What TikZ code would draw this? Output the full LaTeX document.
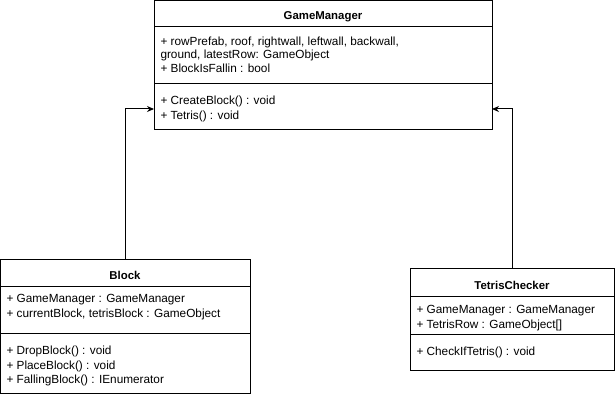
\documentclass[tikz,border=0pt]{standalone}
\usepackage{fontspec}
\setmainfont{Liberation Sans}
\usetikzlibrary{arrows.meta}
\begin{document}
\begin{tikzpicture}[x=1pt,y=-1pt,line width=1pt,
  classbox/.style={draw,inner sep=0pt,outer sep=0pt,anchor=north west},
  ctitle/.style={font=\bfseries\fontsize{11.4}{13}\selectfont,anchor=base,inner sep=0pt},
  member/.style={font=\fontsize{11.8}{13}\selectfont,anchor=base west,inner sep=0pt},
  inherit/.style={-{Stealth[length=7pt,width=6pt]}}]
\useasboundingbox (0,0) rectangle (615,403);
% GameManager
\node[classbox,minimum width=338pt,minimum height=129pt] (gm) at (154,1) {};
\draw (gm.west |- 0,27) -- (gm.east |- 0,27);
\draw (gm.west |- 0,84) -- (gm.east |- 0,84);
\node[ctitle] (gmt) at (323,19.5) {GameManager};
\node[member] (gma1) at (160,45.5) {+ rowPrefab, roof, rightwall, leftwall, backwall,};
\node[member] (gma2) at (160,59) {ground, latestRow: GameObject};
\node[member] (gma3) at (160,73) {+ BlockIsFallin : bool};
\node[member] (gmm1) at (160,105) {+ CreateBlock() : void};
\node[member] (gmm2) at (160,119.5) {+ Tetris() : void};
% Block
\node[classbox,minimum width=249.5pt,minimum height=134pt] (bl) at (0.5,259) {};
\draw (bl.west |- 0,286) -- (bl.east |- 0,286);
\draw (bl.west |- 0,333) -- (bl.east |- 0,333);
\node[ctitle] (blt) at (125,279) {Block};
\node[member] (bla1) at (6,302.5) {+ GameManager : GameManager};
\node[member] (bla2) at (6,317) {+ currentBlock, tetrisBlock : GameObject};
\node[member] (blm1) at (6,354) {+ DropBlock() : void};
\node[member] (blm2) at (6,369) {+ PlaceBlock() : void};
\node[member] (blm3) at (6,383.5) {+ FallingBlock() : IEnumerator};
% TetrisChecker
\node[classbox,minimum width=204pt,minimum height=102pt] (tc) at (410,268) {};
\draw (tc.west |- 0,296) -- (tc.east |- 0,296);
\draw (tc.west |- 0,334) -- (tc.east |- 0,334);
\node[ctitle] (tct) at (512,289) {TetrisChecker};
\node[member] (tca1) at (416,313.5) {+ GameManager : GameManager};
\node[member] (tca2) at (416,328.5) {+ TetrisRow : GameObject[]};
\node[member] (tcm1) at (416,355) {+ CheckIfTetris() : void};
% connectors
\coordinate (gmL) at (gm.west |- 0,109);
\coordinate (gmR) at (gm.east |- 0,109);
\coordinate (blTop) at (125.5,259);
\coordinate (tcTop) at (512.5,268);
\draw[inherit] (blTop) |- (gmL);
\draw[inherit] (tcTop) |- (gmR);
\end{tikzpicture}
\end{document}
